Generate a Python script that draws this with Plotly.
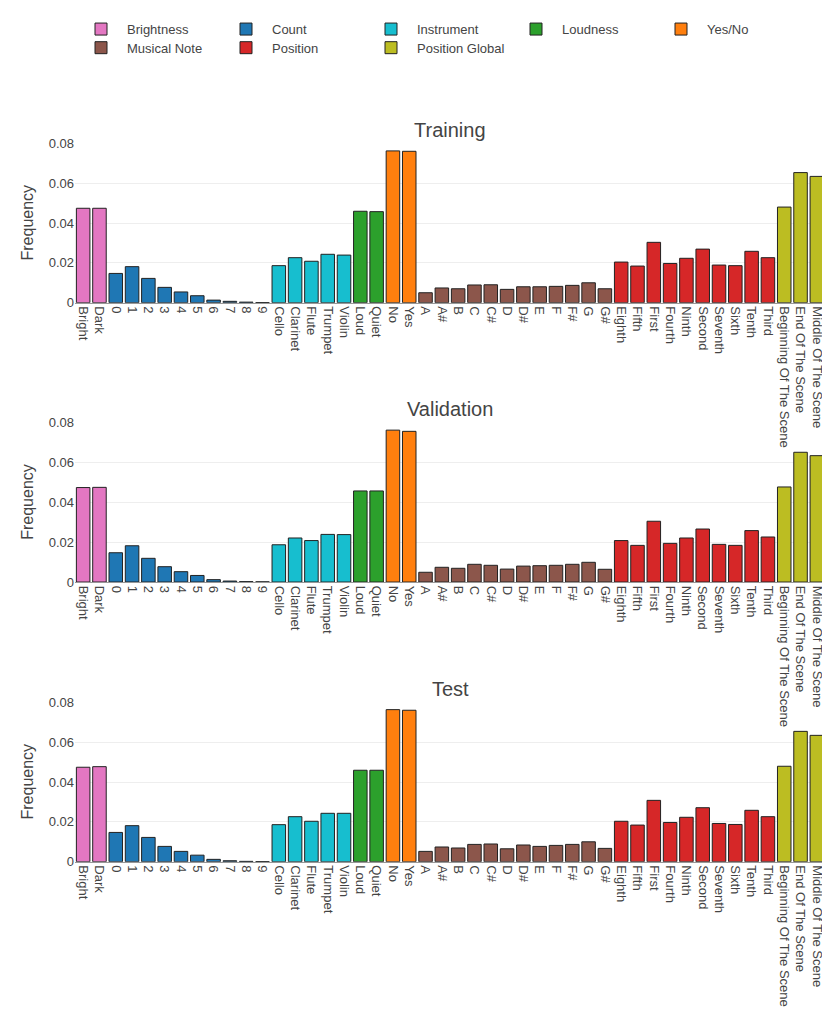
import plotly.graph_objects as go

groups = ["Brightness", "Count", "Instrument", "Loudness", "Yes/No",
          "Musical Note", "Position", "Position Global"]
group_colors = ["#e377c2", "#1f77b4", "#17becf", "#2ca02c", "#ff7f0e",
                "#8c564b", "#d62728", "#bcbd22"]
group_categories = [
    ["Bright", "Dark"],
    ["0", "1", "2", "3", "4", "5", "6", "7", "8", "9"],
    ["Cello", "Clarinet", "Flute", "Trumpet", "Violin"],
    ["Loud", "Quiet"],
    ["No", "Yes"],
    ["A", "A#", "B", "C", "C#", "D", "D#", "E", "F", "F#", "G", "G#"],
    ["Eighth", "Fifth", "First", "Fourth", "Ninth", "Second", "Seventh",
     "Sixth", "Tenth", "Third"],
    ["Beginning Of The Scene", "End Of The Scene", "Middle Of The Scene"],
]

split_names = ["Training", "Validation", "Test"]

training = [
    [0.0474, 0.0474],
    [0.0147, 0.0181, 0.0122, 0.0077, 0.0054, 0.0035, 0.0013, 0.0007, 0.0003, 0.0001],
    [0.0186, 0.0226, 0.0208, 0.0243, 0.0239],
    [0.0459, 0.0457],
    [0.0762, 0.0760],
    [0.0050, 0.0074, 0.0070, 0.0089, 0.0090, 0.0067, 0.0080, 0.0080, 0.0082, 0.0087, 0.0100, 0.0070],
    [0.0204, 0.0184, 0.0303, 0.0197, 0.0223, 0.0269, 0.0189, 0.0186, 0.0258, 0.0226],
    [0.0480, 0.0653, 0.0634],
]
validation = [
    [0.0474, 0.0475],
    [0.0147, 0.0182, 0.0119, 0.0077, 0.0052, 0.0033, 0.0012, 0.0005, 0.0002, 0.0001],
    [0.0187, 0.0221, 0.0208, 0.0239, 0.0238],
    [0.0457, 0.0457],
    [0.0762, 0.0756],
    [0.0049, 0.0074, 0.0069, 0.0089, 0.0084, 0.0065, 0.0080, 0.0082, 0.0084, 0.0089, 0.0099, 0.0064],
    [0.0208, 0.0184, 0.0305, 0.0194, 0.0221, 0.0266, 0.0189, 0.0184, 0.0258, 0.0226],
    [0.0477, 0.0651, 0.0634],
]
test = [
    [0.0474, 0.0477],
    [0.0147, 0.0181, 0.0122, 0.0077, 0.0052, 0.0033, 0.0012, 0.0005, 0.0002, 0.0001],
    [0.0186, 0.0226, 0.0203, 0.0243, 0.0243],
    [0.0459, 0.0459],
    [0.0763, 0.0760],
    [0.0052, 0.0074, 0.0069, 0.0087, 0.0089, 0.0065, 0.0084, 0.0077, 0.0082, 0.0087, 0.0100, 0.0067],
    [0.0203, 0.0184, 0.0308, 0.0197, 0.0223, 0.0271, 0.0192, 0.0187, 0.0258, 0.0226],
    [0.0479, 0.0654, 0.0634],
]
split_values = [training, validation, test]

all_categories = [c for cats in group_categories for c in cats]

FONT = "Liberation Sans, Arial, sans-serif"
TXT = "#444"

fig = go.Figure()
for s, (name, vals) in enumerate(zip(split_names, split_values)):
    ax = "" if s == 0 else str(s + 1)
    for g, (gname, color, cats, v) in enumerate(zip(groups, group_colors, group_categories, vals)):
        fig.add_trace(go.Bar(
            x=cats, y=v, name=gname, legendgroup=gname, showlegend=(s == 0),
            legend="legend" if g < 5 else "legend2",
            marker=dict(color=color, line=dict(color="#222", width=1)),
            xaxis="x" + ax, yaxis="y" + ax,
        ))

# domains for the three panels (top to bottom)
domains = [[0.7770, 0.9530], [0.4697, 0.6458], [0.1620, 0.3381]]

legend_common = dict(orientation="h", x=0.0, xanchor="left", yanchor="top",
                     itemwidth=42, entrywidth=88, entrywidthmode="pixels",
                     font=dict(family=FONT, size=13, color=TXT),
                     bgcolor="rgba(0,0,0,0)", traceorder="normal")

layout = dict(
    width=822, height=1011,
    template="none",
    font=dict(family=FONT, size=13, color=TXT),
    paper_bgcolor="white", plot_bgcolor="white",
    margin=dict(l=67, r=5, t=92, b=10),
    barmode="relative", bargap=0.17,
    legend=dict(legend_common, y=1.0945),
    legend2=dict(legend_common, y=1.0740),
    annotations=[],
)
for s, name in enumerate(split_names):
    ax = "" if s == 0 else str(s + 1)
    layout["xaxis" + ax] = dict(
        domain=[0, 1], anchor="y" + ax, type="category",
        categoryorder="array", categoryarray=all_categories,
        tickangle=90, automargin=False, showgrid=False,
        showline=True, linecolor="#999", linewidth=1, ticks="",
        tickfont=dict(family=FONT, size=13, color=TXT),
    )
    layout["yaxis" + ax] = dict(
        domain=domains[s], anchor="x" + ax, range=[0, 0.0803],
        tickvals=[0, 0.02, 0.04, 0.06, 0.08],
        ticktext=["0", "0.02", "0.04", "0.06", "0.08"],
        showgrid=True, gridcolor="#eee", gridwidth=1, zeroline=False,
        showline=False, ticks="", automargin=False,
        title=dict(text="Frequency", font=dict(family=FONT, size=16, color=TXT)),
        tickfont=dict(family=FONT, size=13, color=TXT),
    )
    layout["annotations"].append(dict(
        text=name, x=0.5, y=domains[s][1], xref="paper", yref="paper",
        xanchor="center", yanchor="bottom", showarrow=False,
        font=dict(family=FONT, size=20, color=TXT),
    ))

fig.update_layout(**layout)
fig.write_html("out.html")
